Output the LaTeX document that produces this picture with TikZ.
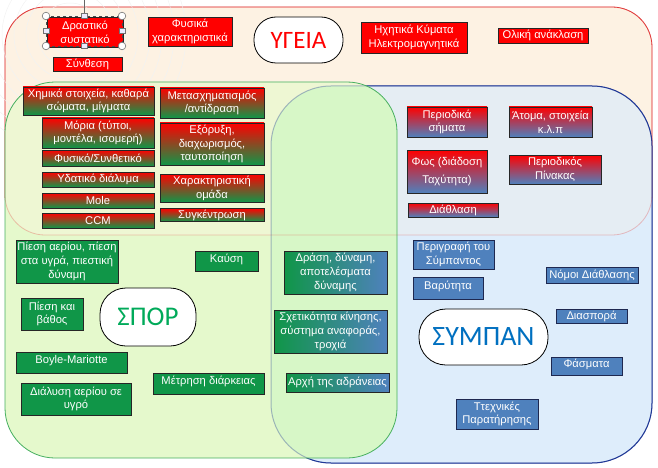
\documentclass[tikz,border=0pt]{standalone}
\usepackage{fontspec}
\setmainfont{Liberation Sans}
\newfontfamily\pillfont{Carlito}
\usepackage{xcolor}

\definecolor{peach}{RGB}{253,242,227}
\definecolor{bluepure}{RGB}{222,237,251}
\definecolor{bluepeach}{RGB}{229,237,243}
\definecolor{greenpure}{RGB}{229,249,204}
\definecolor{greenpeach}{RGB}{238,247,211}
\definecolor{overlap}{RGB}{215,247,199}
\definecolor{linered}{RGB}{225,60,60}
\definecolor{linegreen}{RGB}{70,175,95}
\definecolor{lineblue}{RGB}{32,56,150}
\definecolor{boxgreen}{RGB}{16,150,72}
\definecolor{boxblue}{RGB}{79,129,189}
\definecolor{boxnavy}{RGB}{30,40,80}
\definecolor{spor}{RGB}{0,170,90}
\definecolor{sympan}{RGB}{0,112,192}

\tikzset{
  cell/.style={draw=black!85, line width=0.7pt, inner sep=0pt, align=center, text=white, font=\fontsize{11.2}{13.8}\selectfont},
  sz/.style 2 args={minimum width=#1, minimum height=#2},
  hi/.style={text depth=6pt},
  redbox/.style={cell, fill=red},
  rgbox/.style={cell, top color=red, bottom color=boxgreen},
  rbbox/.style={cell, top color=red, bottom color=boxblue},
  greenbox/.style={cell, fill=boxgreen},
  gbbox/.style={cell, left color=boxgreen, right color=boxblue},
  bluebox/.style={cell, fill=boxblue, draw=boxnavy},
  pill/.style={draw=black, line width=0.8pt, fill=white, inner sep=0pt, font=\pillfont},
  handle/.style={draw=black!55, fill=white, line width=0.6pt},
  redarea/.style={rounded corners=40},
  bluearea/.style={rounded corners=60},
  greenarea/.style={rounded corners=50}
}

\begin{document}
\begin{tikzpicture}[x=1pt, y=-1pt]
\useasboundingbox (0,0) rectangle (658,468);

% areas
\draw[redarea, linered, line width=0.8pt, fill=peach] (5,7) rectangle (652,235);
\foreach \r in {20,32,...,116}
  \draw[black!5, line width=0.5pt] (70,35) circle[radius=\r pt];
\fill[bluearea, bluepure] (271,86) rectangle (652,463);
\begin{scope}
\clip[redarea] (5,7) rectangle (652,235);
\fill[bluearea, bluepeach] (271,86) rectangle (652,463);
\end{scope}
\draw[bluearea, lineblue, line width=1pt] (271,86) rectangle (652,463);
\fill[greenarea, greenpure] (5,82) rectangle (397,458);
\begin{scope}
\clip[redarea] (5,7) rectangle (652,235);
\fill[greenarea, greenpeach] (5,82) rectangle (397,458);
\end{scope}
\begin{scope}
\clip[bluearea] (271,86) rectangle (652,463);
\fill[greenarea, overlap] (5,82) rectangle (397,458);
\end{scope}
\draw[redarea, linered, line width=0.8pt, draw opacity=0.3] (5,7) rectangle (652,235);
\draw[bluearea, lineblue, line width=1pt, draw opacity=0.35] (271,86) rectangle (652,463);
\draw[greenarea, linegreen, line width=0.8pt] (5,82) rectangle (397,458);

\node[pill, sz={89}{46}, rounded corners=22, text=red, font=\pillfont\fontsize{25}{25}\selectfont] (ygeia) at (298.5,40) {ΥΓΕΙΑ};
\node[pill, sz={96}{58}, rounded corners=26, text=spor, font=\pillfont\fontsize{27}{27}\selectfont] (spor) at (148,317) {ΣΠΟΡ};
\node[pill, sz={129}{56}, rounded corners=27, text=sympan, font=\pillfont\fontsize{28}{28}\selectfont] (sympan) at (483.5,337) {ΣΥΜΠΑΝ};

\node[redbox, sz={76}{30}] (drast) at (85,32) {Δραστικό\\συστατικό};
\node[redbox, sz={84}{29}] (fysika) at (190,31.5) {Φυσικά\\χαρακτηριστικά};
\node[redbox, sz={69}{14}] (synth) at (87.5,64) {Σύνθεση};
\node[redbox, sz={106}{31}] (ixitika) at (414,37.5) {Ηχητικά Κύματα\\Ηλεκτρομαγνητικά};
\node[redbox, sz={90}{15}] (oliki) at (543,35.5) {Ολική ανάκλαση};

% selection handles
\draw[black!60, line width=0.6pt] (84,0) -- (84,13);
\draw[black!70, line width=0.6pt, dashed] (46,16) rectangle (122,46);
\foreach \px/\py in {46/16,122/16,46/46,122/46}
  \draw[handle] (\px,\py) circle[radius=3.8pt];
\foreach \px/\py in {84/16,84/46,46/31,122/31}
  \draw[handle, fill=blue!8] (\px-2.8,\py-2.8) rectangle (\px+2.8,\py+2.8);

\node[rgbox, sz={131}{28}] (ximika) at (88.5,101) {Χημικά στοιχεία, καθαρά\\σώματα, μίγματα};
\node[rgbox, sz={104}{30}] (metasx) at (212,103) {Μετασχηματισμός\\/αντίδραση};
\node[rgbox, sz={112}{30}] (moria) at (98,133) {Μόρια (τύποι,\\μοντέλα, ισομερή)};
\node[rgbox, sz={104}{42}] (exoryxi) at (212,144) {Εξόρυξη,\\διαχωρισμός,\\ταυτοποίηση};
\node[rgbox, sz={112}{16}] (fysiko) at (98,158) {Φυσικό/Συνθετικό};
\node[rgbox, sz={112}{15}] (ydatiko) at (98,179.5) {Υδατικό διάλυμα};
\node[rgbox, sz={104}{28}] (xarakt) at (212,188) {Χαρακτηριστική\\ομάδα};
\node[rgbox, sz={112}{15}] (mole) at (98,200.5) {Mole};
\node[rgbox, sz={104}{13}] (synk) at (212,215) {Συγκέντρωση};
\node[rgbox, sz={112}{15}] (ccm) at (98,220.5) {CCM};

\node[rbbox, sz={80}{30}] (periodika) at (447,122) {Περιοδικά\\σήματα};
\node[rbbox, sz={83}{30}] (atoma) at (550.5,122) {Άτομα, στοιχεία\\κ.λ.π};
\node[rbbox, sz={80}{43}] (fws) at (447,171.5) {Φως (διάδοση\\[5pt]Ταχύτητα)};
\node[rbbox, sz={92}{29}] (periodikos) at (555,169.5) {Περιοδικός\\Πίνακας};
\node[rbbox, sz={90}{14}] (diathlasi) at (453,210) {Διάθλαση};

\node[greenbox, sz={102}{43}] (piesi) at (67,261.5) {Πίεση αερίου, πίεση\\στα υγρά, πιεστική\\δύναμη};
\node[greenbox, hi, sz={63}{20}] (kausi) at (226.5,261) {Καύση};
\node[greenbox, sz={62}{32}] (vathos) at (52,314) {Πίεση και\\βάθος};
\node[greenbox, hi, sz={111}{21}] (boyle) at (71.5,362.5) {Boyle-Mariotte};
\node[greenbox, hi, sz={111}{21}] (metrisi) at (208.5,383.5) {Μέτρηση διάρκειας};
\node[greenbox, sz={110}{32}] (dialysi) at (76,399) {Διάλυση αερίου σε\\υγρό};

\node[gbbox, sz={103}{43}] (drasi) at (335.5,272.5) {Δράση, δύναμη,\\αποτελέσματα\\δύναμης};
\node[gbbox, sz={113}{43}] (sxetikotita) at (330.5,331.5) {Σχετικότητα κίνησης,\\σύστημα αναφοράς,\\τροχιά};
\node[gbbox, sz={103}{19}] (arxi) at (337.5,382.5) {Αρχή της αδράνειας};

\node[bluebox, sz={81}{29}] (perigrafi) at (453.5,254.5) {Περιγραφή του\\Σύμπαντος};
\node[bluebox, hi, sz={70}{22}] (varytita) at (448,288) {Βαρύτητα};
\node[bluebox, sz={92}{16}] (nomoi) at (592,275) {Νόμοι Διάθλασης};
\node[bluebox, sz={71}{14}] (diaspora) at (591.5,316) {Διασπορά};
\node[bluebox, hi, sz={71}{18}] (fasmata) at (586.5,366) {Φάσματα};
\node[bluebox, sz={82}{30}] (texnikes) at (497,414) {Ττεχνικές\\Παρατήρησης};
\end{tikzpicture}
\end{document}
